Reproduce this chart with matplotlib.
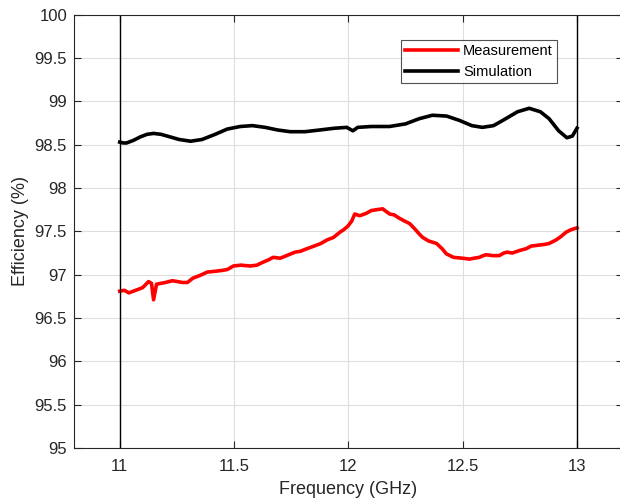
import numpy as np
import matplotlib.pyplot as plt

plt.rcParams['font.family'] = ['Liberation Sans', 'DejaVu Sans']

meas_f = [11.0, 11.02, 11.04, 11.06, 11.08, 11.10, 11.126, 11.139, 11.148, 11.161, 11.18, 11.20,
          11.23, 11.253, 11.275, 11.296, 11.32, 11.35, 11.383, 11.42, 11.45, 11.471, 11.497,
          11.53, 11.571, 11.60, 11.623, 11.65, 11.671, 11.702, 11.73, 11.767, 11.79, 11.819,
          11.85, 11.88, 11.906, 11.935, 11.963, 11.98, 11.998, 12.015, 12.028, 12.05, 12.08,
          12.10, 12.124, 12.15, 12.165, 12.181, 12.20, 12.224, 12.245, 12.268, 12.29, 12.31,
          12.325, 12.35, 12.386, 12.41, 12.429, 12.46, 12.499, 12.53, 12.55, 12.573, 12.59,
          12.603, 12.63, 12.66, 12.68, 12.695, 12.717, 12.75, 12.778, 12.80, 12.83, 12.86,
          12.878, 12.908, 12.93, 12.952, 12.975, 13.0]
meas_eff = [96.81, 96.82, 96.79, 96.81, 96.83, 96.85, 96.92, 96.90, 96.71, 96.89, 96.90, 96.91,
            96.93, 96.92, 96.91, 96.91, 96.96, 96.99, 97.03, 97.04, 97.05, 97.06, 97.10,
            97.11, 97.10, 97.11, 97.14, 97.17, 97.20, 97.19, 97.22, 97.26, 97.27, 97.30,
            97.33, 97.36, 97.40, 97.43, 97.49, 97.52, 97.56, 97.62, 97.70, 97.68, 97.71,
            97.74, 97.75, 97.76, 97.73, 97.70, 97.69, 97.65, 97.62, 97.59, 97.53, 97.47,
            97.43, 97.39, 97.36, 97.30, 97.24, 97.20, 97.19, 97.18, 97.19, 97.20, 97.22,
            97.23, 97.22, 97.22, 97.25, 97.26, 97.25, 97.28, 97.30, 97.33, 97.34, 97.35,
            97.36, 97.40, 97.44, 97.49, 97.52, 97.54]

# simulated efficiency
sim_f = [11.0, 11.015, 11.03, 11.06, 11.09, 11.12, 11.148, 11.18, 11.22, 11.26, 11.31, 11.36,
         11.418, 11.47, 11.527, 11.58, 11.636, 11.69, 11.745, 11.81, 11.876, 11.94, 11.993,
         12.02, 12.041, 12.10, 12.18, 12.25, 12.31, 12.368, 12.43, 12.486, 12.54, 12.586,
         12.635, 12.682, 12.74, 12.791, 12.84, 12.878, 12.92, 12.956, 12.98, 13.0]
sim_eff = [98.53, 98.52, 98.52, 98.55, 98.59, 98.62, 98.63, 98.62, 98.59, 98.56, 98.54, 98.56,
           98.62, 98.68, 98.71, 98.72, 98.70, 98.67, 98.65, 98.65, 98.67, 98.69, 98.70,
           98.66, 98.70, 98.71, 98.71, 98.74, 98.80, 98.84, 98.83, 98.78, 98.72, 98.70,
           98.72, 98.79, 98.88, 98.92, 98.88, 98.80, 98.66, 98.58, 98.60, 98.69]

xticks = [11, 11.5, 12, 12.5, 13]
yticks = [95, 95.5, 96, 96.5, 97, 97.5, 98, 98.5, 99, 99.5, 100]

fig = plt.figure(figsize=(6.2, 5), dpi=100)
ax = fig.add_axes([74 / 620, 0.104, 0.885, 0.8666])

ax.plot(meas_f, meas_eff, color='red', lw=2.6, label='Measurement')
ax.plot(sim_f, sim_eff, color='black', lw=2.6, label='Simulation')
ax.axvline(11, color='black', lw=1)
ax.axvline(13, color='black', lw=1)

ax.set_xlim(10.8, 13.2)
ax.set_ylim(95, 100)
ax.set_xticks(xticks)
ax.set_xticklabels([f'{t:g}' for t in xticks])
ax.set_yticks(yticks)
ax.set_yticklabels([f'{t:g}' for t in yticks])
ax.grid(True, color='#dedede', lw=0.8)
ax.set_axisbelow(True)
ax.tick_params(direction='in', top=True, right=True, labelsize=12, colors='#262626', length=5)
ax.tick_params(axis='x', pad=8)
ax.tick_params(axis='y', pad=5)
for s in ax.spines.values():
    s.set_color('#262626')
    s.set_linewidth(0.8)

ax.set_xlabel('Frequency (GHz)', fontsize=13, color='#262626', labelpad=5)
ax.set_ylabel('Efficiency (%)', fontsize=13, color='#262626', labelpad=4)

leg = ax.legend(loc='upper left', bbox_to_anchor=(401 / 620, 1 - 40 / 500),
                bbox_transform=fig.transFigure, fontsize=10.5, frameon=True, fancybox=False,
                handlelength=3.6, handletextpad=0.35, borderpad=0.3, labelspacing=0.45,
                borderaxespad=0)
leg.get_frame().set_edgecolor('#262626')
leg.get_frame().set_linewidth(0.8)

fig.savefig('out.png', dpi=100)
